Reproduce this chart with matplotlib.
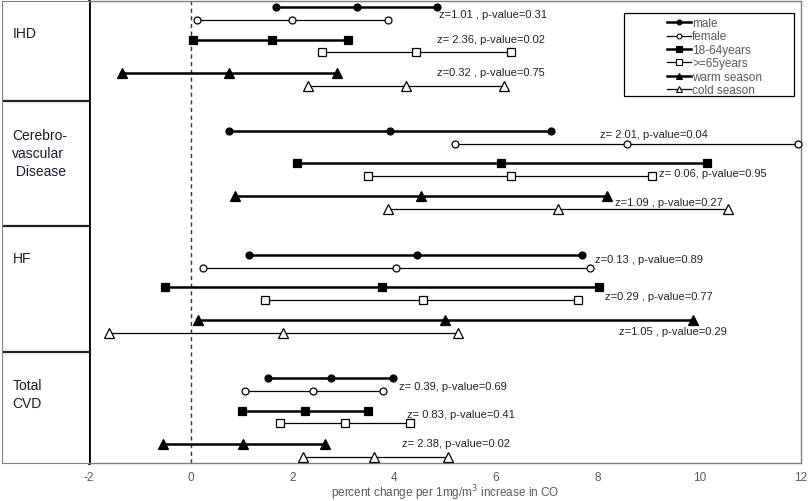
import matplotlib
matplotlib.use('Agg')
import matplotlib.pyplot as plt
from matplotlib.patches import Rectangle
from matplotlib.lines import Line2D

plt.rcParams['font.family'] = ['Liberation Sans', 'DejaVu Sans']
plt.rcParams['axes.unicode_minus'] = False

# diseases (label column) and subgroups
diseases = ['IHD', 'Cerebro-\nvascular\n Disease', 'HF', 'Total\nCVD']
groups = ['male', 'female', '18-64years', '>=65years', 'warm season', 'cold season']

# [lower, estimate, upper] per disease: IHD, Cerebrovascular, HF, Total CVD
male = [[1.68, 3.26, 4.84], [0.75, 3.92, 7.08], [1.14, 4.44, 7.70], [1.52, 2.75, 3.98]]
female = [[0.12, 1.99, 3.88], [5.19, 8.58, 11.94], [0.24, 4.03, 7.86], [1.06, 2.41, 3.78]]
age_18_64 = [[0.05, 1.59, 3.10], [2.09, 6.11, 10.16], [-0.50, 3.76, 8.03], [1.01, 2.25, 3.48]]
age_65 = [[2.58, 4.42, 6.30], [3.48, 6.29, 9.08], [1.47, 4.56, 7.61], [1.75, 3.03, 4.31]]
warm = [[-1.35, 0.75, 2.87], [0.88, 4.52, 8.18], [0.14, 5.00, 9.87], [-0.55, 1.03, 2.64]]
cold = [[2.30, 4.23, 6.16], [3.87, 7.22, 10.57], [-1.60, 1.81, 5.26], [2.20, 3.61, 5.06]]

# z-test annotations
z_labels = ['z=1.01 , p-value=0.31', 'z= 2.36, p-value=0.02', 'z=0.32 , p-value=0.75',
            'z= 2.01, p-value=0.04', 'z= 0.06, p-value=0.95', 'z=1.09 , p-value=0.27',
            'z=0.13 , p-value=0.89', 'z=0.29 , p-value=0.77', 'z=1.05 , p-value=0.29',
            'z= 0.39, p-value=0.69', 'z= 0.83, p-value=0.41', 'z= 2.38, p-value=0.02']
z_x = [4.88, 4.84, 4.84, 8.05, 9.2, 8.35, 7.95, 8.15, 8.43, 4.10, 4.25, 4.16]
z_y = [15, 40, 73, 135, 174, 203, 260, 297, 332, 387, 415, 444]

series = [male, female, age_18_64, age_65, warm, cold]
styles = [dict(marker='o', mfc='black', ms=5, lw=1.8),
          dict(marker='o', mfc='white', ms=5, lw=0.9),
          dict(marker='s', mfc='black', ms=6, lw=1.8),
          dict(marker='s', mfc='white', ms=6, lw=0.9),
          dict(marker='^', mfc='black', ms=6.5, lw=1.8),
          dict(marker='^', mfc='white', ms=6.5, lw=0.9)]
offsets = [0, 13, 32.5, 45, 65.5, 78.5]
group_step = 123.8
first_row = 8

W, H = 809, 502
fig = plt.figure(figsize=(W / 100, H / 100), dpi=100)
top, bottom = 2, 464
ax = fig.add_axes([89 / W, (H - bottom) / H, (801 - 89) / W, (bottom - top) / H])
lab = fig.add_axes([2 / W, (H - bottom) / H, 87 / W, (bottom - top) / H])

for i, (s, st) in enumerate(zip(series, styles)):
    for d, vals in enumerate(s):
        y = first_row + d * group_step + offsets[i]
        ax.plot(vals, [y] * 3, color='black', mec='black', mew=0.9,
                clip_on=False, zorder=3, **st)

ax.axvline(0, color='#333333', lw=1, ls=(0, (3, 2.5)), zorder=1)

for t, tx, ty in zip(z_labels, z_x, z_y):
    ax.text(tx, ty, t, fontsize=8, va='center', ha='left', color='#222222')

ax.set_xlim(-2, 12)
ax.set_ylim(bottom, top)
ax.set_yticks([])
ax.set_xticks(range(-2, 13, 2))
ax.tick_params(axis='x', length=0, pad=5.5, labelsize=8.5, labelcolor='#595959')
for side in ['top', 'right', 'bottom']:
    ax.spines[side].set_color('#7f7f7f')
    ax.spines[side].set_linewidth(1)
ax.spines['left'].set_color('black')
ax.spines['left'].set_linewidth(2)
ax.set_xlabel('percent change per 1mg/m$^3$ increase in CO', fontsize=8.5,
              color='#595959', va='center')
ax.xaxis.set_label_coords(0.5, -29.5 / 462)

# label column
lab.set_xlim(0, 1)
lab.set_ylim(bottom, top)
lab.set_xticks([])
lab.set_yticks([])
for side in ['top', 'left', 'bottom']:
    lab.spines[side].set_color('#7f7f7f')
lab.spines['right'].set_visible(False)
for yb in [102, 227, 353]:
    lab.axhline(yb, color='#222222', lw=1.6)
label_y = [34, 154, 259, 395]
for name, ly in zip(diseases, label_y):
    lab.text(0.12, ly, name, fontsize=10, va='center', ha='left', color='#1a1a2e',
             linespacing=1.35)

# legend
handles = [Line2D([], [], color='black', mec='black', mew=0.8, **st) for st in styles]
fig.patches.append(Rectangle((624 / W, 1 - 97 / H), (794 - 624) / W, (97 - 14) / H,
                             transform=fig.transFigure, fill=False, ec='black', lw=0.9))
fig.legend(handles, groups, loc='upper left', bbox_to_anchor=(661 / W, 1 - 12 / H),
           frameon=False, fontsize=8.5, handlelength=2.0, handletextpad=0.15,
           handleheight=0.5, labelspacing=0.12, borderpad=0, labelcolor='#595959',
           markerscale=0.7)

fig.savefig('out.png', dpi=100)
